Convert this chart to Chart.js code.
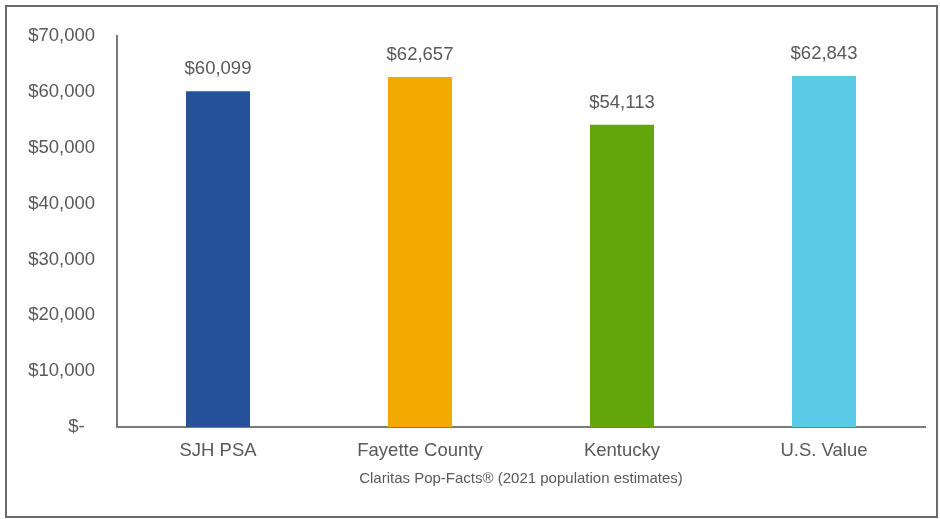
<!DOCTYPE html>
<html>
<head>
<meta charset="utf-8">
<script src="https://cdn.jsdelivr.net/npm/chart.js@4/dist/chart.umd.min.js"></script>
<style>
  html, body { margin: 0; padding: 0; background: #ffffff; }
  #wrap { position: relative; width: 940px; height: 519px; }
  canvas { display: block; }
</style>
</head>
<body>
<div id="wrap"><canvas id="c" width="940" height="519"></canvas></div>
<script>
const categories = ['SJH PSA', 'Fayette County', 'Kentucky', 'U.S. Value'];
const values = [60099, 62657, 54113, 62843];
const barColors = ['#24519A', '#F2A900', '#62A60C', '#5BC9E8'];
const yTicks = [0, 10000, 20000, 30000, 40000, 50000, 60000, 70000];
const axisTitle = 'Claritas Pop-Facts® (2021 population estimates)';

const FONT = '"Liberation Sans", Arial, sans-serif';
const TEXT = '#595959';

function money(v) {
  return v === 0 ? '$-  ' : '$' + v.toLocaleString('en-US');
}

const frame = {
  id: 'frame',
  afterDraw(chart) {
    const ctx = chart.ctx;
    ctx.save();
    ctx.strokeStyle = '#6b6b6b';
    ctx.lineWidth = 2;
    ctx.strokeRect(6, 6, 931, 511);
    ctx.restore();
  }
};

const dataLabels = {
  id: 'dataLabels',
  afterDatasetsDraw(chart) {
    const ctx = chart.ctx;
    const meta = chart.getDatasetMeta(0);
    ctx.save();
    ctx.font = '18.5px ' + FONT;
    ctx.fillStyle = TEXT;
    ctx.textAlign = 'center';
    ctx.textBaseline = 'middle';
    meta.data.forEach((bar, i) => {
      ctx.fillText(money(chart.data.datasets[0].data[i]), bar.x, bar.y - 22);
    });
    ctx.restore();
  }
};

new Chart(document.getElementById('c'), {
  type: 'bar',
  data: {
    labels: categories,
    datasets: [{
      data: values,
      backgroundColor: barColors,
      borderWidth: 0,
      categoryPercentage: 1,
      barPercentage: 0.317
    }]
  },
  options: {
    responsive: false,
    animation: false,
    devicePixelRatio: 1,
    layout: { padding: { left: 0, right: 15, top: 36, bottom: 0 } },
    plugins: {
      legend: { display: false },
      tooltip: { enabled: false },
      title: { display: false }
    },
    scales: {
      x: {
        grid: { display: false, drawTicks: false },
        border: { display: true, color: '#7a7a7a', width: 2 },
        ticks: { color: TEXT, font: { family: FONT, size: 18.5 }, padding: 13, maxRotation: 0 },
        title: {
          display: true,
          text: axisTitle,
          color: TEXT,
          font: { family: FONT, size: 15 },
          padding: { top: 4, bottom: 31 }
        },
        afterFit(scale) { scale.height = 92; }
      },
      y: {
        min: 0,
        max: 70000,
        afterBuildTicks(scale) { scale.ticks = yTicks.map(v => ({ value: v })); },
        grid: { display: false, drawTicks: false },
        border: { display: true, color: '#7a7a7a', width: 2 },
        ticks: {
          color: TEXT,
          font: { family: FONT, size: 18.5 },
          padding: 22,
          callback: (v) => money(v)
        },
        afterFit(scale) { scale.width = 117; }
      }
    }
  },
  plugins: [frame, dataLabels]
});
</script>
</body>
</html>
